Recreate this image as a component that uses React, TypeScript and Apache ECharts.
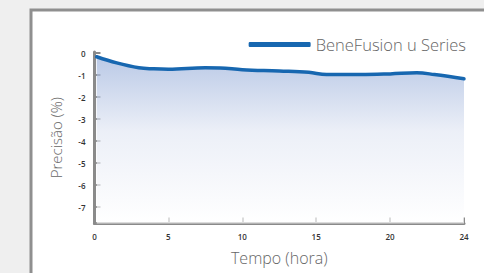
import React, { useEffect, useRef } from "react";
import * as echarts from "echarts";

const seriesName = "BeneFusion u Series";
// x in axis positions (the final tick is labelled "24" in the reference)
const hours = [0.15, 1.5, 3, 4, 5, 7.5, 8.5, 10, 12.5, 14.5, 15.7, 18, 20, 21.8, 23, 25];
const precision = [-0.17, -0.45, -0.67, -0.72, -0.74, -0.67, -0.68, -0.76, -0.82, -0.88, -0.98, -0.98, -0.95, -0.9, -0.98, -1.17];
const xTicks = [0, 5, 10, 15, 20, 25];
const xTickLabels = ["0", "5", "10", "15", "20", "24"];
const yTicks = [0, -1, -2, -3, -4, -5, -6, -7];

export default function App() {
  const ref = useRef<HTMLDivElement>(null);
  useEffect(() => {
    if (!ref.current) return;
    const chart = echarts.init(ref.current, undefined, { renderer: "svg" });
    const font = "'Open Sans', 'Noto Sans', sans-serif";
    const axisColor = "#8a8a8a";
    chart.setOption({
      animation: false,
      backgroundColor: "#efefef",
      textStyle: { fontFamily: font },
      graphic: [
        {
          type: "rect",
          z: -10,
          silent: true,
          shape: { x: 31, y: 10, width: 520, height: 320 },
          style: { fill: "#ffffff", stroke: "#8f8f8f", lineWidth: 3 },
        },
      ],
      legend: {
        show: true,
        top: 31,
        right: 13,
        itemWidth: 62,
        itemHeight: 5,
        itemGap: 10,
        icon: "roundRect",
        data: [seriesName],
        textStyle: { fontSize: 16.5, color: "#666", fontFamily: font, fontWeight: 300 },
      },
      grid: { left: 94.5, right: 20, top: 51.9, bottom: 49.5, containLabel: false },
      xAxis: {
        type: "value",
        min: 0,
        max: 25,
        name: "Tempo (hora)",
        nameLocation: "middle",
        nameGap: 26,
        nameTextStyle: { fontSize: 16, color: "#666", fontFamily: font, fontWeight: 300 },
        axisLine: { show: true, onZero: false, lineStyle: { color: axisColor, width: 3 } },
        axisTick: { show: true, inside: true, length: 6, customValues: xTicks, lineStyle: { color: axisColor, width: 2 } },
        axisLabel: {
          fontSize: 8,
          color: "#333",
          margin: 9,
          fontWeight: 600,
          customValues: xTicks,
          formatter: (v: number) => xTickLabels[xTicks.indexOf(v)] ?? "",
        },
        splitLine: { show: false },
      },
      yAxis: {
        type: "value",
        min: -7.75,
        max: 0.05,
        name: "Precisão (%)",
        nameLocation: "middle",
        nameGap: 31,
        nameRotate: 90,
        nameTextStyle: { fontSize: 15, color: "#666", fontFamily: font, fontWeight: 300 },
        axisLine: { show: true, onZero: false, lineStyle: { color: axisColor, width: 3 } },
        axisTick: { show: true, inside: true, length: 6, customValues: yTicks, lineStyle: { color: axisColor, width: 2 } },
        axisLabel: {
          fontSize: 8,
          color: "#333",
          margin: 9,
          fontWeight: 600,
          customValues: yTicks,
          formatter: (v: number) => String(v),
        },
        splitLine: { show: false },
      },
      series: [
        {
          name: seriesName,
          type: "line",
          smooth: 0.4,
          symbol: "none",
          data: hours.map((h, i) => [h, precision[i]]),
          lineStyle: { color: "#1767b0", width: 3.5, cap: "round" },
          itemStyle: { color: "#1767b0" },
          areaStyle: {
            origin: "start",
            color: new echarts.graphic.LinearGradient(0, 0, 0, 1, [
              { offset: 0, color: "#9db3dc" },
              { offset: 0.45, color: "#e4e9f4" },
              { offset: 1, color: "#ffffff" },
            ]),
          },
        },
      ],
    });
    return () => chart.dispose();
  }, []);
  return (
    <div
      ref={ref}
      style={{ position: "fixed", left: 0, top: 0, width: 484, height: 273 }}
    />
  );
}
